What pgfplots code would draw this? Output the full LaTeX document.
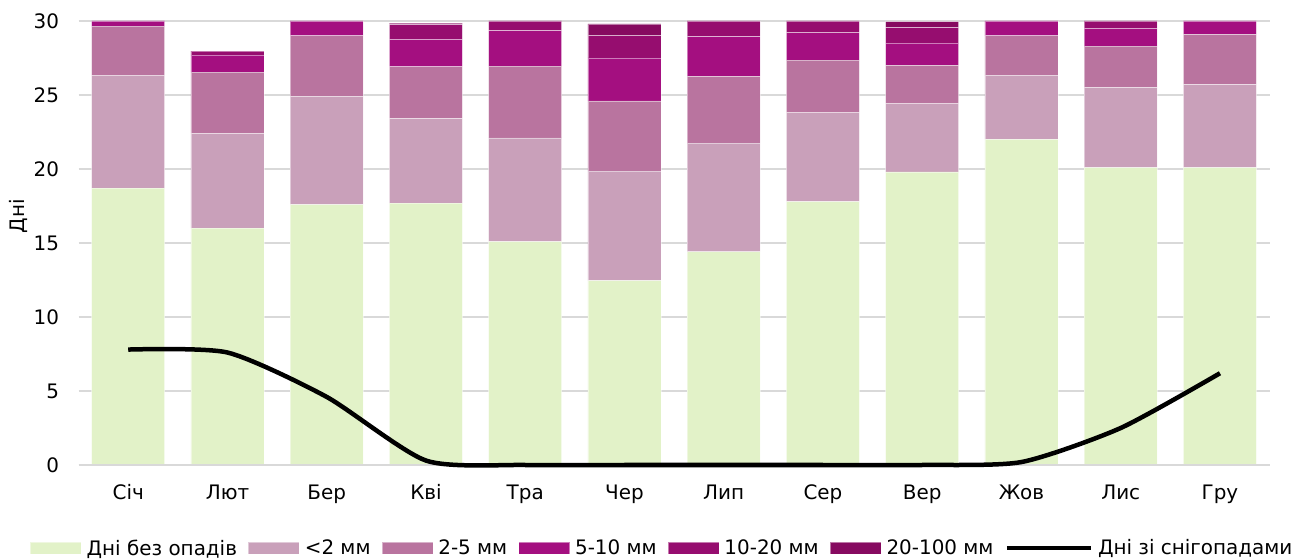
\documentclass[border=0pt]{standalone}
\usepackage{fontspec}
\setmainfont{DejaVu Sans}
\usepackage{pgfplots}
\usepackage{pgfplotstable}
\pgfplotsset{compat=1.18}
\definecolor{cdry}{HTML}{E2F2C8}
\definecolor{clt}{HTML}{C9A0BA}
\definecolor{cfive}{HTML}{B9749F}
\definecolor{cten}{HTML}{A40F80}
\definecolor{ctw}{HTML}{960D6F}
\definecolor{chun}{HTML}{860A60}
\definecolor{cgrid}{HTML}{D9D9D9}
\pgfplotstableread{
x dry lt2 f2 f5 f10 f20 snow
0 18.7 7.6 3.35 0.35 0 0 7.8
1 16.0 6.4 4.15 1.15 0.27 0 7.6
2 17.6 7.3 4.1 1.0 0 0 4.6
3 17.7 5.7 3.5 1.85 1.0 0.1 0.3
4 15.1 7.0 4.85 2.4 0.65 0 0
5 12.45 7.4 4.75 2.9 1.5 0.8 0
6 14.4 7.35 4.5 2.7 1.05 0 0
7 17.8 6.0 3.55 1.85 0.8 0 0
8 19.8 4.6 2.6 1.5 1.05 0.4 0
9 22.0 4.3 2.7 1.0 0 0 0.2
10 20.1 5.4 2.8 1.2 0.5 0 2.5
11 20.1 5.6 3.4 0.9 0 0 6.2
}\data
\pgfplotsset{
  barsty/.style={draw=white, draw opacity=0.45, line width=0.8bp},
  snowleg/.style={legend image code/.code={\draw[black, line width=4.5bp] (0bp,0bp) -- (84bp,0bp);}},
}
\begin{document}
\begin{tikzpicture}
\useasboundingbox (-78.6bp,-95bp) rectangle (1212.4bp,465bp);
\begin{axis}[
  at={(0,0)}, anchor=south west,
  scale only axis, width=1191bp, height=444bp,
  ybar stacked, bar width=73bp,
  xmin=-0.5, xmax=11.5, ymin=0, ymax=30,
  xtick={0,...,11},
  xticklabels={Січ,Лют,Бер,Кві,Тра,Чер,Лип,Сер,Вер,Жов,Лис,Гру},
  ytick={0,5,...,30},
  ymajorgrids, grid style={cgrid, line width=1.5bp},
  axis line style={draw=none},
  axis x line*=bottom,
  axis y line*=left,
  major tick length=0pt,
  tick label style={font=\fontsize{20}{24}\selectfont, text=black},
  /pgf/number format/assume math mode=true,
  yticklabel style={xshift=-16bp},
  xticklabel style={yshift=-16bp},
  ylabel={Дні},
  ylabel style={font=\fontsize{20}{24}\selectfont, at={(axis description cs:-0.0505,0.56)}, anchor=center},
  legend columns=-1,
  legend style={at={(axis description cs:0.4899,-0.187)}, anchor=center, draw=none,
    font=\fontsize{20}{24}\selectfont,
    /tikz/every even column/.append style={column sep=9bp},
    /tikz/every odd column/.append style={column sep=3bp},
    inner sep=0pt},
  legend image code/.code={\fill[#1] (0bp,-6bp) rectangle (51bp,6bp);},
  clip=false,
]
\draw[cgrid, line width=1.5bp] (axis cs:-0.5,0) -- (axis cs:11.5,0);
\addplot[barsty, fill=cdry] table[x=x,y=dry]{\data};
\addplot[barsty, fill=clt] table[x=x,y=lt2]{\data};
\addplot[barsty, fill=cfive] table[x=x,y=f2]{\data};
\addplot[barsty, fill=cten] table[x=x,y=f5]{\data};
\addplot[barsty, fill=ctw] table[x=x,y=f10]{\data};
\addplot[barsty, fill=chun] table[x=x,y=f20]{\data};
\addlegendimage{snowleg}
\legend{Дні без опадів,<2 мм,2-5 мм,5-10 мм,10-20 мм,20-100 мм,Дні зі снігопадами}
\end{axis}
\begin{axis}[
  at={(0,0)}, anchor=south west,
  scale only axis, width=1191bp, height=444bp,
  xmin=-0.5, xmax=11.5, ymin=0, ymax=30,
  axis lines=none, clip=false,
]
\addplot[black, line width=4.5bp, smooth, tension=0.4, no markers] table[x=x,y=snow]{\data};
\end{axis}
\end{tikzpicture}
\end{document}
